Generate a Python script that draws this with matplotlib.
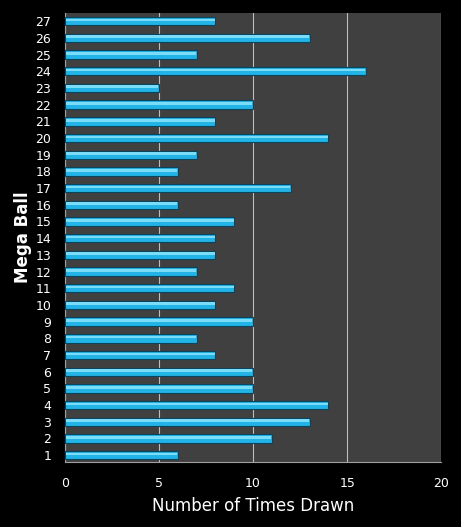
import matplotlib
matplotlib.use("Agg")
import matplotlib.pyplot as plt

balls = list(range(1, 28))
times_drawn = [6, 11, 13, 14, 10, 10, 8, 7, 10, 8, 9, 7, 8, 8, 9, 6,
               12, 6, 7, 14, 8, 10, 5, 16, 7, 13, 8]
x_ticks = [0, 5, 10, 15, 20]

fig = plt.figure(figsize=(4.61, 5.27), dpi=100, facecolor="black")
ax = fig.add_axes([0.141, 0.123, 0.816, 0.852])
ax.set_facecolor("#404040")

# base bar with dark edge, then a lighter highlight strip
ax.barh(balls, times_drawn, height=0.5, color="#22b4e6", edgecolor="#0a4560",
        linewidth=0.8, zorder=3)
ax.barh([b + 0.07 for b in balls], [t - 0.08 for t in times_drawn], height=0.16,
        left=0.04, color="#7adcf6", linewidth=0, zorder=4)

ax.set_xlim(0, 20)
ax.set_ylim(0.58, 27.48)
ax.set_xticks(x_ticks)
ax.set_yticks(balls)
ax.grid(axis="x", color="#bdbdbd", linewidth=0.8, zorder=1)
ax.grid(axis="y", visible=False)
for side in ["top", "right"]:
    ax.spines[side].set_visible(False)
for side in ["left", "bottom"]:
    ax.spines[side].set_color("#a0a0a0")
ax.tick_params(colors="white", labelsize=9, length=0, pad=10)
ax.tick_params(axis="x", pad=11)
ax.set_xlabel("Number of Times Drawn", color="white", fontsize=12, labelpad=5)
ax.set_ylabel("Mega Ball", color="white", fontsize=12, fontweight="bold")
ax.yaxis.set_label_coords(-0.088, 0.5)

fig.savefig("out.png", dpi=100, facecolor="black")
